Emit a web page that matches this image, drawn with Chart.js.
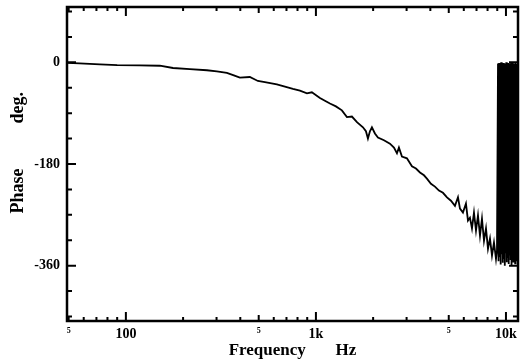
<!DOCTYPE html>
<html><head><meta charset="utf-8">
<script src="https://cdn.jsdelivr.net/npm/chart.js@4"></script>
<style>html,body{margin:0;padding:0;background:#fff}canvas{display:block}</style>
</head><body>
<canvas id="c" width="529" height="364"></canvas>
<script>
const freqHz = [49,57,73,90,118,151,177,217,267,301,340,370,398,449,495,539,623,687,757,824,897,952,1050,1115,1185,1274,1370,1456,1547,1644,1768,1833,1878,1924,1971,2044,2120,2280,2452,2574,2669,2734,2836,3012,3201,3360,3528,3703,3838,4030,4230,4441,4661,4894,5135,5391,5591,5728,5939,6158,6310,6464,6624,6787,6955,7125,7300,7478,7662,7850,8043,8240,8442,8649,8862,8970];
const phaseDeg = [-1,-2,-3.5,-5,-5.5,-6,-10,-12,-14,-16,-18.5,-23,-27,-26,-33,-35,-39,-43,-47,-50,-55,-53,-63,-68,-73,-78,-85,-97,-96,-106,-115,-122,-135,-122,-115,-126,-133,-138,-144,-151,-161,-151,-167,-170,-184,-188,-195,-200,-206,-215,-220,-227,-231,-239,-245,-254,-239,-259,-266,-250,-280,-275,-294,-266,-298,-271,-307,-277,-316,-294,-330,-312,-342,-319,-348,-333];
const bandFreqHz = [9080,9140,9200,9260,9320,9380,9440,9500,9560,9620,9680,9740,9800,9860,9920,9980,10040,10100,10160,10220,10280,10340,10400,10460,10520,10580,10640,10700,10760,10820,10880,10940,11000,11060,11120,11180,11240,11300,11360,11420];
const bandPhaseDeg = [-2,-352,-1,-345,-4,-358,0,-340,-3,-355,-1,-348,-5,-360,-2,-338,0,-354,-3,-346,-1,-357,-4,-342,-2,-350,0,-359,-3,-344,-1,-353,-2,-347,-4,-356,0,-341,-3,-352];
const xTickValues = [50,60,70,80,90,100,200,300,400,500,600,700,800,900,1000,2000,3000,4000,5000,6000,7000,8000,9000,10000];
const xTickLabels = {50:'5',100:'100',500:'5',1000:'1k',5000:'5',10000:'10k'};
const xMajor = [100,1000,10000];
const xMid = [500,5000];
const xSmall = [50,500,5000];
const yTickValues = [-450,-405,-360,-315,-270,-225,-180,-135,-90,-45,0,45,90];
const yTickLabels = {'0':'0','-180':'-180','-360':'-360'};
const yMajor = [0,-180,-360];

const points = freqHz.map((f,i)=>({x:f,y:phaseDeg[i]})).concat(bandFreqHz.map((f,i)=>({x:f,y:bandPhaseDeg[i]})));
const SERIF = "'Liberation Serif','DejaVu Serif',serif";

const frameTicks = {
  id:'frameTicks',
  afterDraw(chart){
    const {ctx, chartArea:a, scales:{x,y}} = chart;
    ctx.save();
    ctx.strokeStyle='#000';
    ctx.lineWidth=2;
    ctx.beginPath();
    xTickValues.forEach(v=>{
      const px = x.getPixelForValue(v);
      const len = xMajor.includes(v) ? 9 : (xMid.includes(v) ? 6 : 4);
      ctx.moveTo(px, a.bottom); ctx.lineTo(px, a.bottom-len);
      ctx.moveTo(px, a.top); ctx.lineTo(px, a.top+len);
    });
    yTickValues.forEach(v=>{
      const py = y.getPixelForValue(v);
      const len = yMajor.includes(v) ? 9 : 5;
      ctx.moveTo(a.left, py); ctx.lineTo(a.left+len, py);
      ctx.moveTo(a.right, py); ctx.lineTo(a.right-len, py);
    });
    ctx.stroke();
    ctx.lineWidth=2.5;
    ctx.strokeRect(a.left,a.top,a.right-a.left,a.bottom-a.top);
    ctx.restore();
  }
};

new Chart(document.getElementById('c'), {
  type:'line',
  data:{datasets:[{data:points, borderColor:'#000', borderWidth:1.8, pointRadius:0, tension:0, fill:false}]},
  options:{
    responsive:false, animation:false,
    layout:{padding:{left:0,right:11,top:7,bottom:0}},
    plugins:{legend:{display:false}, tooltip:{enabled:false}},
    scales:{
      x:{
        type:'logarithmic', min:49, max:11570,
        afterBuildTicks:s=>{s.ticks = xTickValues.map(v=>({value:v}));},
        afterFit:s=>{s.height=43; s.paddingLeft=0; s.paddingRight=0;},
        grid:{display:false, drawTicks:false}, border:{display:false},
        ticks:{autoSkip:false, maxRotation:0, minRotation:0, padding:5, color:'#000',
          font:(c)=>({family:SERIF, weight:'bold', size:(c.tick && xSmall.includes(c.tick.value)) ? 8 : 14}),
          callback:(v)=> xTickLabels[v] !== undefined ? xTickLabels[v] : ''},
        title:{display:true, text:'Frequency       Hz', color:'#000', font:{family:SERIF, size:17, weight:'bold'}, padding:{top:0,bottom:3}}
      },
      y:{
        type:'linear', min:-458, max:98,
        afterBuildTicks:s=>{s.ticks = yTickValues.map(v=>({value:v}));},
        afterFit:s=>{s.width=67; s.paddingTop=0; s.paddingBottom=0;},
        grid:{display:false, drawTicks:false}, border:{display:false},
        ticks:{autoSkip:false, padding:7, color:'#000', font:{family:SERIF, size:14, weight:'bold'},
          callback:(v)=> yTickLabels[String(v)] !== undefined ? yTickLabels[String(v)] : ''},
        title:{display:true, text:'     Phase          deg.', color:'#000', font:{family:SERIF, size:18, weight:'bold'}, padding:{top:8,bottom:0}}
      }
    }
  },
  plugins:[frameTicks]
});
</script>
</body></html>
